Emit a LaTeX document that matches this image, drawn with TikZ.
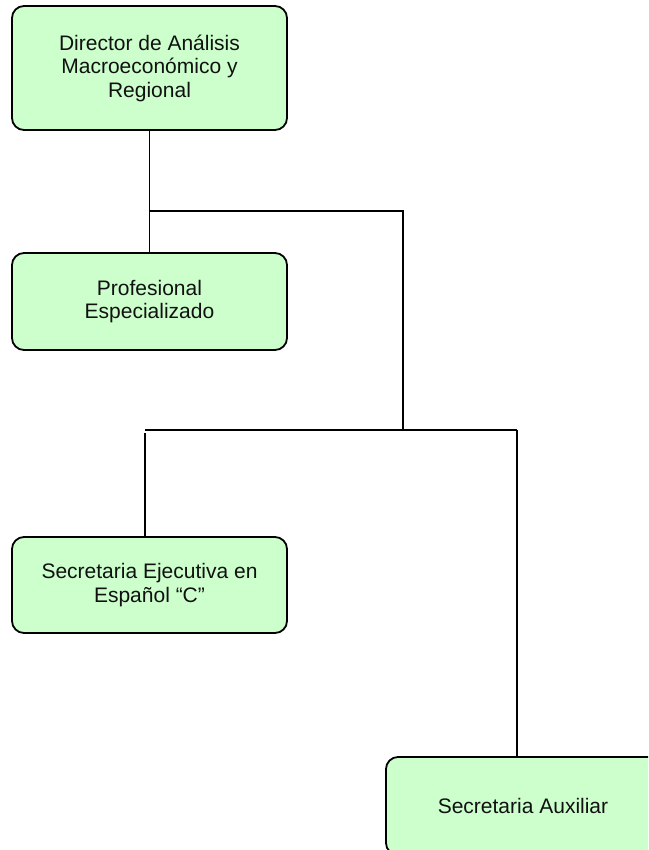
\documentclass[tikz,border=0pt]{standalone}
\usepackage{fontspec}
\setmainfont{Liberation Sans}
\definecolor{boxfill}{HTML}{CCFFCC}
\definecolor{txt}{HTML}{111111}
\begin{document}
\begin{tikzpicture}[x=1pt,y=-1pt,
  orgbox/.style={draw=black, line width=1.8pt, fill=boxfill, rounded corners=12pt,
    minimum width=275pt, align=center, text=txt, inner sep=0pt,
    font=\fontsize{21}{23.5}\selectfont},
  link/.style={draw=black, line width=1.8pt}]
\useasboundingbox (0,0) rectangle (648,850);
\clip (0,0) rectangle (648,850);
\fill[white] (0,0) rectangle (648,850);
\node[orgbox, minimum height=124pt] (dir) at (149.5,68) {Director de Análisis\\Macroeconómico y\\Regional};
\node[orgbox, minimum height=97pt] (prof) at (149.5,301.5) {Profesional\\Especializado};
\node[orgbox, minimum height=96pt] (sec) at (149.5,585) {Secretaria Ejecutiva en\\Español “C”};
\node[orgbox, minimum width=274pt, minimum height=98pt] (aux) at (523,806) {Secretaria Auxiliar};
\coordinate (j1) at (149.5,211);
\coordinate (j2) at (403,211);
\coordinate (j3) at (403,431);
\coordinate (j4) at (145,430);
\coordinate (j5) at (517,430);
\draw[link] (dir.south) -- (prof.north);
\draw[link] (j1) -- (j2) -- (j3);
\draw[link] (j4) -- (j5);
\draw[link] ([yshift=-3pt]j4) -- (j4 |- sec.north);
\draw[link] (j5) -- (j5 |- aux.north);
\end{tikzpicture}
\end{document}
